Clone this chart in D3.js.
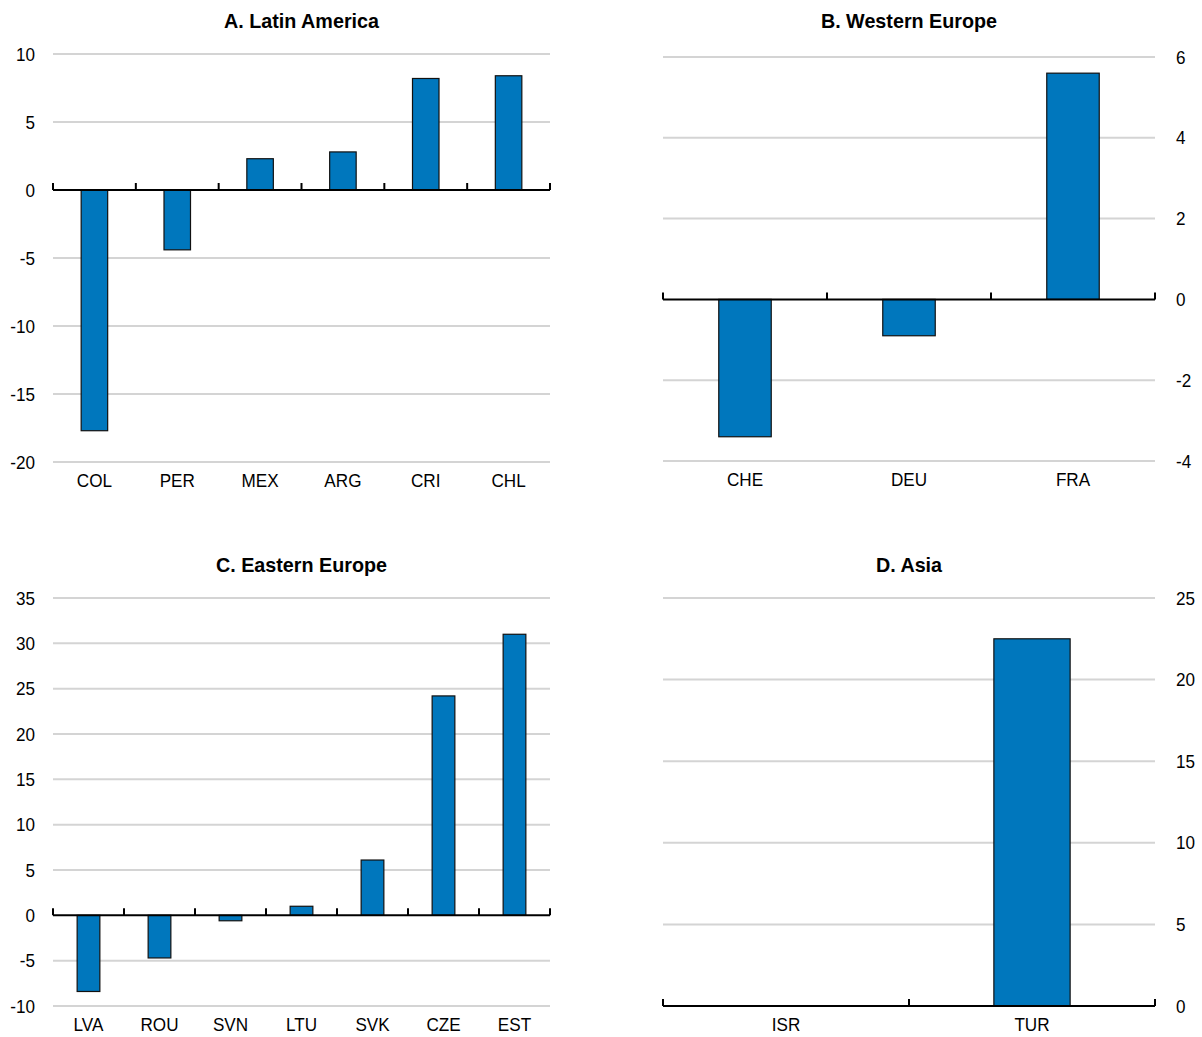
<!DOCTYPE html>
<html>
<head>
<meta charset="utf-8">
<script src="https://cdn.jsdelivr.net/npm/d3@7"></script>
<style>
  html, body { margin: 0; padding: 0; background: #fff; }
  svg text { font-family: "Liberation Sans", Arial, sans-serif; fill: #000; }
</style>
</head>
<body>
<svg id="chart" width="1202" height="1037"></svg>
<script>
// Panel A: Latin America
const latamCountries = ["COL", "PER", "MEX", "ARG", "CRI", "CHL"];
const latamValues = [-17.7, -4.4, 2.3, 2.8, 8.2, 8.4];
const latamTicks = [-20, -15, -10, -5, 0, 5, 10];

// Panel B: Western Europe
const westCountries = ["CHE", "DEU", "FRA"];
const westValues = [-3.4, -0.9, 5.6];
const westTicks = [-4, -2, 0, 2, 4, 6];

// Panel C: Eastern Europe
const eastCountries = ["LVA", "ROU", "SVN", "LTU", "SVK", "CZE", "EST"];
const eastValues = [-8.4, -4.7, -0.6, 1.0, 6.1, 24.2, 31.0];
const eastTicks = [-10, -5, 0, 5, 10, 15, 20, 25, 30, 35];

// Panel D: Asia
const asiaCountries = ["ISR", "TUR"];
const asiaValues = [0, 22.5];
const asiaTicks = [0, 5, 10, 15, 20, 25];

const svg = d3.select("#chart");
const BAR_FILL = "#0077bd";
const GRID = "#d4d4d4";

function drawPanel(opts) {
  const { title, countries, values, ticks, left, right, top, bottom, titleY, axisSide, padding } = opts;
  const g = svg.append("g");

  const x = d3.scaleBand().domain(countries).range([left, right]).paddingInner(padding).paddingOuter(padding / 2);
  const bands = d3.scaleBand().domain(countries).range([left, right]);
  const y = d3.scaleLinear().domain([d3.min(ticks), d3.max(ticks)]).range([bottom, top]);

  // title
  g.append("text")
    .attr("class", "panel-title")
    .attr("x", (left + right) / 2)
    .attr("y", titleY)
    .attr("text-anchor", "middle")
    .attr("font-size", 21)
    .attr("font-weight", "bold")
    .text(title);

  // horizontal gridlines
  g.append("g").selectAll("line")
    .data(ticks.filter(t => t !== 0))
    .join("line")
    .attr("x1", left).attr("x2", right)
    .attr("y1", d => y(d)).attr("y2", d => y(d))
    .attr("stroke", GRID).attr("stroke-width", 2);

  // value axis labels (plain hyphen for negatives)
  const yAxis = (axisSide === "left" ? d3.axisLeft(y) : d3.axisRight(y))
    .tickValues(ticks).tickSize(0).tickPadding(0).tickFormat(d => String(d));
  const ya = g.append("g")
    .attr("transform", `translate(${axisSide === "left" ? left - 18 : right + 21},0)`)
    .call(yAxis);
  ya.select(".domain").remove();
  ya.selectAll("text").attr("font-size", 19).attr("fill", "#000")
    .style("font-family", '"Liberation Sans", Arial, sans-serif');

  // bars
  g.append("g").selectAll("rect")
    .data(countries.map((c, i) => ({ c, v: values[i] })).filter(d => d.v !== 0))
    .join("rect")
    .attr("x", d => x(d.c))
    .attr("width", x.bandwidth())
    .attr("y", d => y(Math.max(0, d.v)))
    .attr("height", d => Math.abs(y(d.v) - y(0)))
    .attr("fill", BAR_FILL)
    .attr("stroke", "#111")
    .attr("stroke-width", 1.2);

  // zero line with category separator ticks
  const y0 = y(0);
  g.append("line")
    .attr("x1", left).attr("x2", right)
    .attr("y1", y0).attr("y2", y0)
    .attr("stroke", "#000").attr("stroke-width", 2);
  const seps = countries.map(c => bands(c)).concat([right]);
  g.append("g").selectAll("line")
    .data(seps)
    .join("line")
    .attr("x1", d => d).attr("x2", d => d)
    .attr("y1", y0).attr("y2", y0 - 7)
    .attr("stroke", "#000").attr("stroke-width", 2);

  // category labels
  const xAxis = d3.axisBottom(bands).tickSize(0).tickPadding(0);
  const xa = g.append("g").attr("transform", `translate(0,${bottom + 25})`).call(xAxis);
  xa.select(".domain").remove();
  xa.selectAll("text").attr("font-size", 19).attr("fill", "#000").attr("dy", "0")
    .style("font-family", '"Liberation Sans", Arial, sans-serif');
}

drawPanel({ title: "A. Latin America", countries: latamCountries, values: latamValues, ticks: latamTicks,
  left: 53, right: 550, top: 54, bottom: 462, titleY: 28, axisSide: "left", padding: 0.68 });
drawPanel({ title: "B. Western Europe", countries: westCountries, values: westValues, ticks: westTicks,
  left: 663, right: 1155, top: 57, bottom: 461, titleY: 28, axisSide: "right", padding: 0.68 });
drawPanel({ title: "C. Eastern Europe", countries: eastCountries, values: eastValues, ticks: eastTicks,
  left: 53, right: 550, top: 598, bottom: 1006, titleY: 572, axisSide: "left", padding: 0.68 });
drawPanel({ title: "D. Asia", countries: asiaCountries, values: asiaValues, ticks: asiaTicks,
  left: 663, right: 1155, top: 598, bottom: 1006, titleY: 572, axisSide: "right", padding: 0.69 });

// Narrow the lettering a little for a condensed look
svg.selectAll("text").each(function () {
  const factor = this.classList.contains("panel-title") ? 0.94 : 0.9;
  const w = this.getComputedTextLength();
  this.setAttribute("textLength", (w * factor).toFixed(1));
  this.setAttribute("lengthAdjust", "spacingAndGlyphs");
});
</script>
</body>
</html>
